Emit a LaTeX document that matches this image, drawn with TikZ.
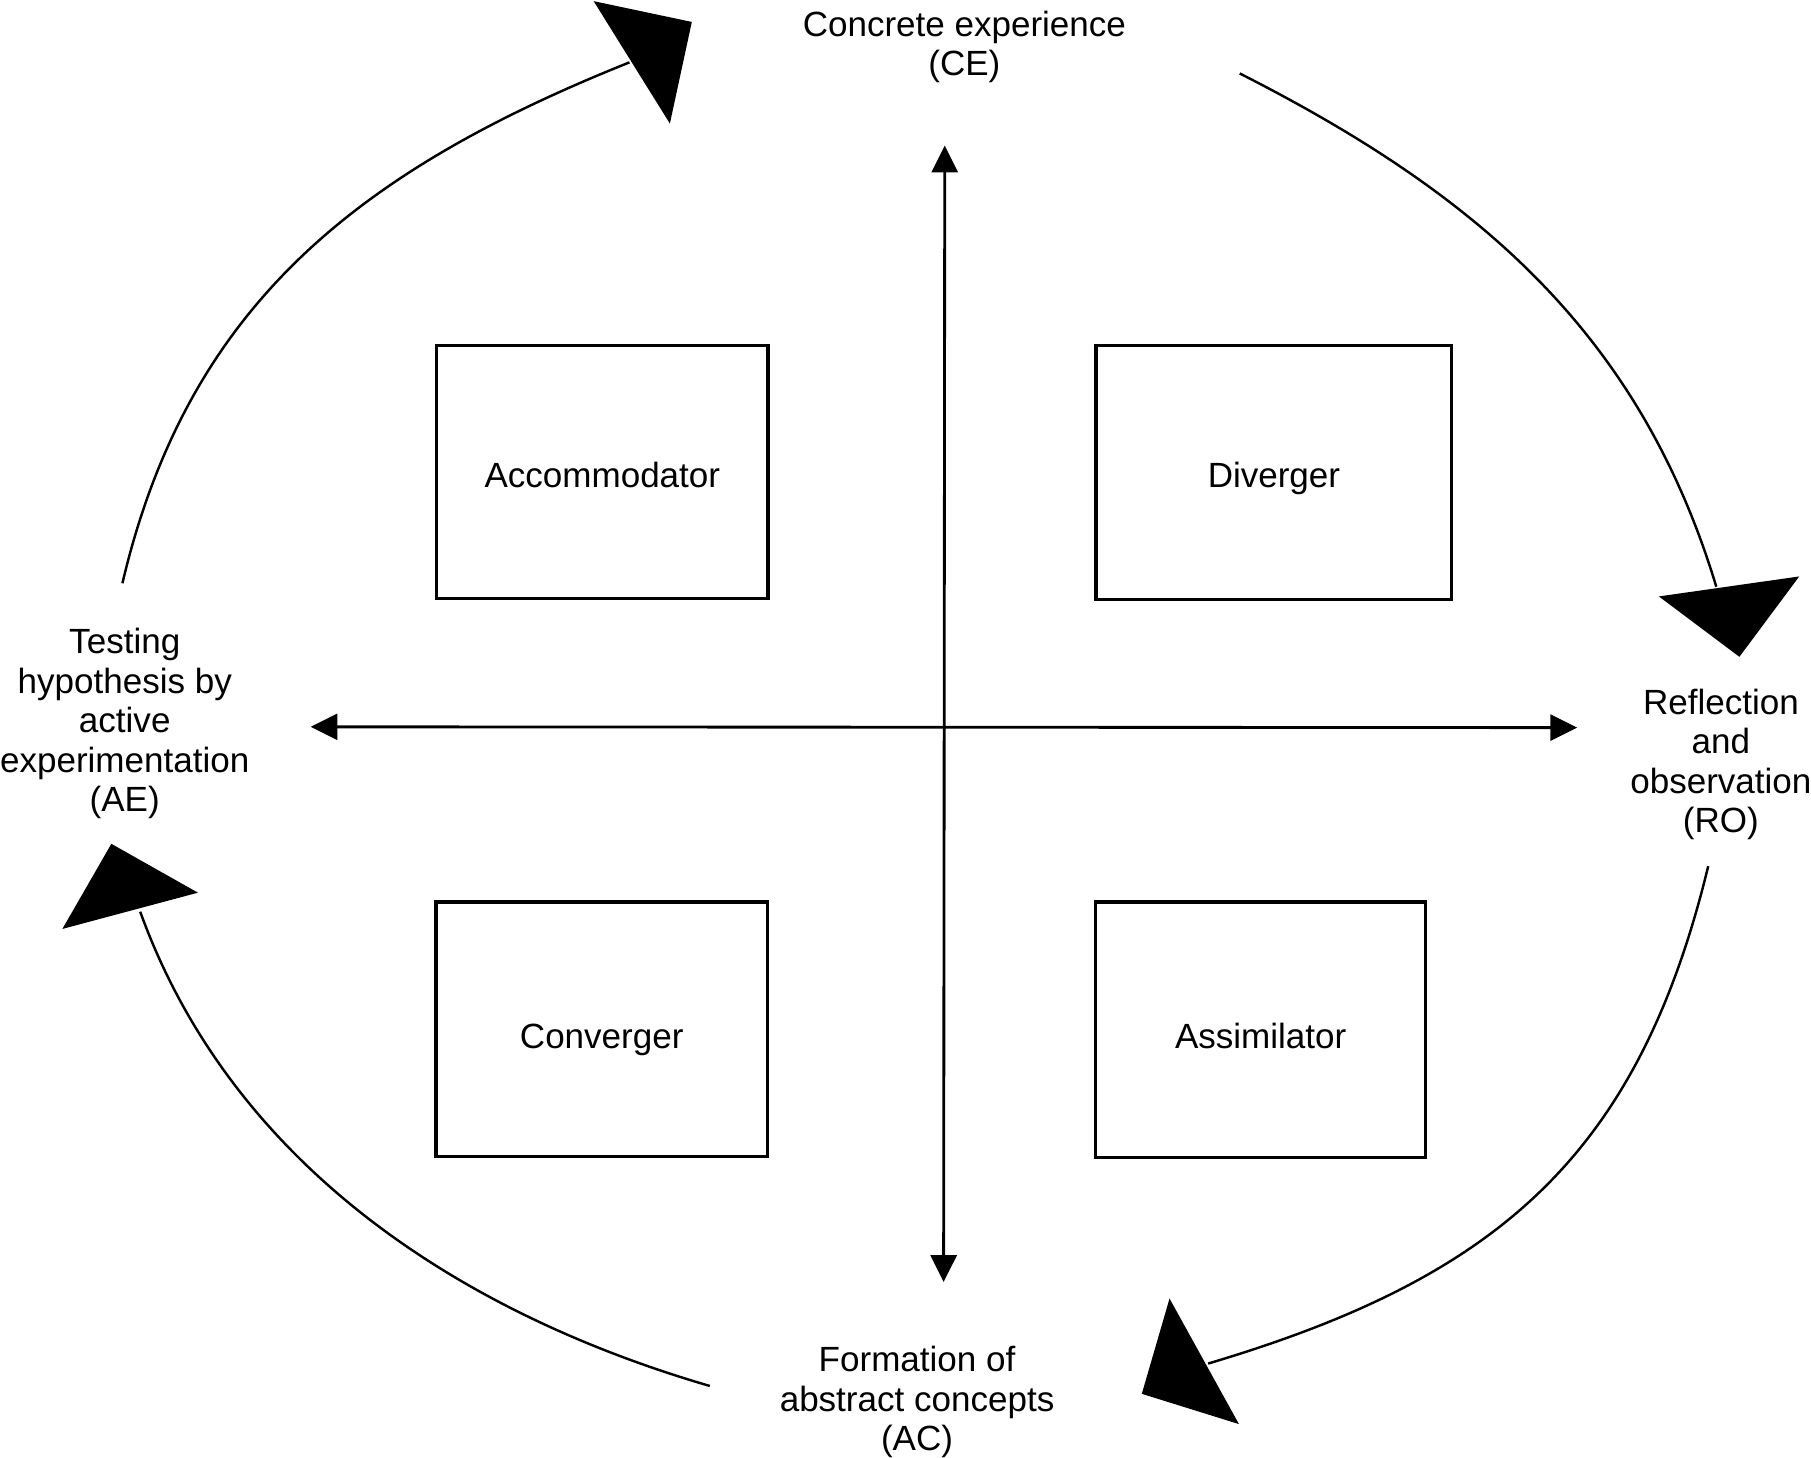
\documentclass[tikz,border=0pt]{standalone}
\usepackage{fontspec}
\setmainfont{Liberation Sans}
\usetikzlibrary{arrows.meta}
\begin{document}
\begin{tikzpicture}[x=0.1mm, y=-0.1mm,
		stage/.style={align=center, inner sep=0pt, font=\fontsize{8.63}{9.7}\selectfont},
		stylebox/.style={draw, line width=0.8pt, inner sep=0pt, text depth=0pt, font=\fontsize{8.63}{9.7}\selectfont},
		cyclearc/.style={line width=0.6pt},
		axis/.style={line width=0.7pt, {Triangle[length=6.6pt,width=6.4pt]}-{Triangle[length=6.6pt,width=6.4pt]}}]
			\useasboundingbox (0,0) rectangle (1568,1262.3);
			%stages of the cycle
			\node[stage] (CE) at (835,40.5) {Concrete experience\\(CE)};
			\node[stage] (RO) at (1490,662) {Reflection\\and\\observation\\(RO)};
			\node[stage] (AC) at (794,1214) {Formation of\\abstract concepts\\(AC)};
			\node[stage] (AE) at (108,626.5) {Testing\\hypothesis by\\active\\experimentation\\(AE)};
			%learning styles
			\node[stylebox, text height=7.6pt, minimum width=2.87cm, minimum height=2.19cm] (acc) at (521.5,408.5) {Accommodator};
			\node[stylebox, text height=7.3pt, minimum width=3.08cm, minimum height=2.2cm] (div) at (1103,409) {Diverger};
			\node[stylebox, text height=9.6pt, minimum width=2.87cm, minimum height=2.2cm] (con) at (521,891) {Converger};
			\node[stylebox, text height=9.3pt, minimum width=2.86cm, minimum height=2.21cm] (ass) at (1091.5,891.5) {Assimilator};
			%axes
			\coordinate (ce tip) at (818,126);
			\coordinate (ac tip) at (817,1110);
			\coordinate (ae tip) at (269,629.3);
			\coordinate (ro tip) at (1365.6,630);
			\draw[axis] (ce tip) -- (ac tip);
			\draw[axis] (ae tip) -- (ro tip);
			%arcs of the cycle
			\coordinate (ae out) at (106,505);
			\coordinate (ce in) at (545,54);
			\coordinate (ce out) at (1073.4,63.6);
			\coordinate (ro in) at (1486,508);
			\coordinate (ro out) at (1479,750);
			\coordinate (ac in) at (1046,1180.6);
			\coordinate (ac out) at (614.6,1200);
			\coordinate (ae in) at (121.4,789.4);
			\draw[cyclearc] (ae out) .. controls (163,262) and (313,147) .. (ce in);
			\draw[cyclearc] (ce out) .. controls (1278.4,167.7) and (1419.5,287.9) .. (ro in);
			\draw[cyclearc] (ro out) .. controls (1417.6,1002.7) and (1295.1,1106.5) .. (ac in);
			\draw[cyclearc] (ac out) .. controls (393.8,1135.6) and (199.6,1005.6) .. (ae in);
			%big heads
			\fill (514,1) -- (599,19) -- (580,107) -- cycle;
			\fill (1436.3,516.4) -- (1557.8,499.1) -- (1506,568.7) -- cycle;
			\fill (1012.6,1124.3) -- (988.6,1206.8) -- (1072.7,1233) -- cycle;
			\fill (171.4,772.9) -- (54,804.3) -- (96.4,730.6) -- cycle;
		\end{tikzpicture}
\end{document}
